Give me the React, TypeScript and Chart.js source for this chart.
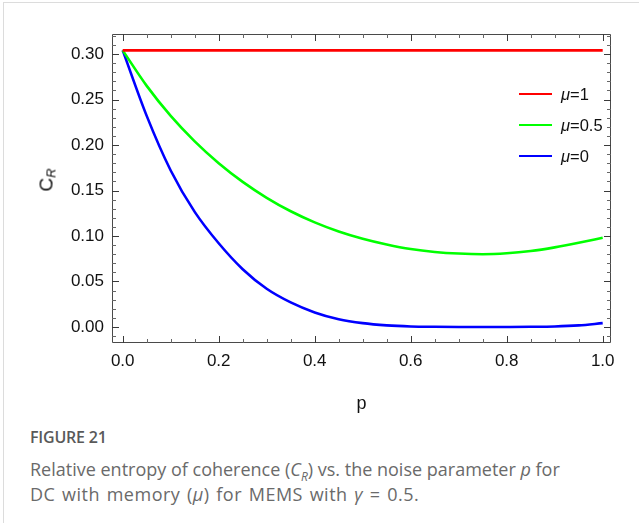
import React, { useEffect, useRef } from "react";
import { Chart, registerables } from "chart.js";

Chart.register(...registerables);

// ---- data ----
const pValues = [0, 0.05, 0.1, 0.15, 0.2, 0.25, 0.3, 0.35, 0.4, 0.45, 0.5, 0.55, 0.6, 0.65, 0.7, 0.75, 0.8, 0.85, 0.9, 0.95, 1.0];
const crMuOne = [0.304, 0.304, 0.304, 0.304, 0.304, 0.304, 0.304, 0.304, 0.304, 0.304, 0.304, 0.304, 0.304, 0.304, 0.304, 0.304, 0.304, 0.304, 0.304, 0.304, 0.304];
const crMuHalf = [0.304, 0.265, 0.232, 0.204, 0.18, 0.1595, 0.142, 0.1272, 0.115, 0.105, 0.097, 0.0907, 0.0857, 0.0825, 0.0807, 0.08, 0.081, 0.0835, 0.0875, 0.0925, 0.098];
const crMuZero = [0.304, 0.232, 0.172, 0.1265, 0.092, 0.0635, 0.042, 0.027, 0.016, 0.0085, 0.0042, 0.0018, 0.0006, 0.0002, 0.00003, 0.0, 0.00003, 0.0002, 0.0006, 0.0018, 0.0042];
const seriesLabels = ["μ=1", "μ=0.5", "μ=0"];
const seriesColors = ["#ff0000", "#00ff00", "#0000ff"];
const xTickValues = [0, 0.2, 0.4, 0.6, 0.8, 1.0];
const yTickValues = [0, 0.05, 0.1, 0.15, 0.2, 0.25, 0.3];
const xMinorStep = 0.05;
const yMinorStep = 0.01;

const TICK_FONT = "'Liberation Sans', Arial, sans-serif";

const frameTicksPlugin = {
  id: "frameTicks",
  afterDraw(chart: any) {
    const { ctx, chartArea, scales } = chart;
    const { left, right, top, bottom } = chartArea;
    const xs = scales.x;
    const ys = scales.y;
    ctx.save();
    ctx.strokeStyle = "#4a4a4a";
    ctx.lineWidth = 1;
    ctx.beginPath();
    ctx.rect(Math.round(left) + 0.5, Math.round(top) + 0.5, Math.round(right - left) - 1, Math.round(bottom - top) - 1);
    ctx.stroke();
    const isMajor = (v: number, arr: number[]) => arr.some((t) => Math.abs(t - v) < 1e-6);
    for (let i = Math.ceil(xs.min / xMinorStep); i * xMinorStep <= xs.max + 1e-9; i++) {
      const v = i * xMinorStep;
      const px = Math.round(xs.getPixelForValue(v)) + 0.5;
      const major = isMajor(v, xTickValues);
      const len = major ? 7 : 4;
      ctx.strokeStyle = major ? "#3a3a3a" : "#666";
      ctx.beginPath();
      ctx.moveTo(px, bottom);
      ctx.lineTo(px, bottom - len);
      ctx.moveTo(px, top);
      ctx.lineTo(px, top + len);
      ctx.stroke();
    }
    for (let i = Math.ceil(ys.min / yMinorStep); i * yMinorStep <= ys.max + 1e-9; i++) {
      const v = i * yMinorStep;
      const py = Math.round(ys.getPixelForValue(v)) + 0.5;
      const major = isMajor(v, yTickValues);
      const len = major ? 7 : 4;
      ctx.strokeStyle = major ? "#3a3a3a" : "#666";
      ctx.beginPath();
      ctx.moveTo(left, py);
      ctx.lineTo(left + len, py);
      ctx.moveTo(right, py);
      ctx.lineTo(right - len, py);
      ctx.stroke();
    }
    ctx.restore();
  },
};

export default function App() {
  const canvasRef = useRef<HTMLCanvasElement | null>(null);

  useEffect(() => {
    const canvas = canvasRef.current;
    if (!canvas) return;
    const makeData = (arr: number[]) => pValues.map((p, i) => ({ x: p, y: arr[i] }));
    const series = [crMuOne, crMuHalf, crMuZero];
    const chart = new Chart(canvas, {
      type: "line",
      data: {
        datasets: series.map((arr, i) => ({
          label: seriesLabels[i],
          data: makeData(arr),
          borderColor: seriesColors[i],
          backgroundColor: seriesColors[i],
          borderWidth: 2.6,
          pointRadius: 0,
          fill: false,
          cubicInterpolationMode: "monotone" as const,
        })),
      },
      options: {
        animation: false,
        responsive: false,
        devicePixelRatio: 1,
        layout: { padding: { left: 0, top: 34, right: 28, bottom: 0 } },
        plugins: {
          legend: { display: false },
          tooltip: { enabled: false },
        },
        scales: {
          x: {
            type: "linear",
            min: -0.0223,
            max: 1.0173,
            grid: { display: false, drawTicks: false },
            border: { display: false },
            afterBuildTicks: (scale: any) => {
              scale.ticks = xTickValues.map((v) => ({ value: v }));
            },
            afterFit: (scale: any) => {
              scale.height = 77;
            },
            ticks: {
              autoSkip: false,
              maxRotation: 0,
              padding: 8,
              color: "#111",
              font: { family: TICK_FONT, size: 17 },
              callback: (v: any) => Number(v).toFixed(1),
            },
            title: {
              display: true,
              text: "p",
              color: "#111",
              font: { family: TICK_FONT, size: 18 },
              padding: { top: 0, bottom: 5 },
            },
          },
          y: {
            type: "linear",
            min: -0.0176,
            max: 0.322,
            grid: { display: false, drawTicks: false },
            border: { display: false },
            afterBuildTicks: (scale: any) => {
              scale.ticks = yTickValues.map((v) => ({ value: v }));
            },
            afterFit: (scale: any) => {
              scale.width = 112;
            },
            ticks: {
              autoSkip: false,
              padding: 8,
              color: "#111",
              font: { family: TICK_FONT, size: 17 },
              callback: (v: any) => Number(v).toFixed(2),
            },
          },
        },
      },
      plugins: [frameTicksPlugin],
    });
    return () => chart.destroy();
  }, []);

  const legendRowTops = [94, 125, 156];

  return (
    <div style={{ position: "absolute", left: 0, top: 0, width: 639, height: 528, background: "#fff", overflow: "hidden" }}>
      <div style={{ position: "absolute", left: 3, top: 2, width: 640, height: 520, borderTop: "1px solid #dcdcdc", borderLeft: "1px solid #dcdcdc" }} />
      <canvas ref={canvasRef} width={639} height={420} style={{ position: "absolute", left: 0, top: 0, width: 639, height: 420 }} />
      <div
        style={{
          position: "absolute",
          left: 46,
          top: 180,
          transform: "translate(-50%, -50%) rotate(-90deg)",
          fontFamily: TICK_FONT,
          fontSize: 19,
          color: "#111",
          whiteSpace: "nowrap",
          lineHeight: 1,
        }}
      >
        C<sub style={{ fontSize: 13, fontStyle: "italic", verticalAlign: "-3px", lineHeight: 0 }}>R</sub>
      </div>
      {seriesLabels.map((lab, i) => (
        <div key={lab} style={{ position: "absolute", left: 519, top: legendRowTops[i] - 10, height: 20, display: "flex", alignItems: "center" }}>
          <div style={{ width: 33, height: 2.6, background: seriesColors[i] }} />
          <div style={{ marginLeft: 9, fontFamily: TICK_FONT, fontSize: 16.5, color: "#111", whiteSpace: "nowrap" }}>
            <i>μ</i>
            {lab.slice(1)}
          </div>
        </div>
      ))}
      <div style={{ position: "absolute", left: 30, top: 425, width: 609, fontFamily: "'Open Sans', Lato, sans-serif", color: "#6a6a6a" }}>
        <div style={{ fontSize: 16, fontWeight: 600, color: "#595959", lineHeight: "24px", letterSpacing: -0.2 }}>FIGURE 21</div>
        <div style={{ fontSize: 18, lineHeight: "25px", marginTop: 8, whiteSpace: "nowrap" }}>
          Relative entropy of coherence (<i>C</i>
          <sub style={{ fontSize: 12, fontStyle: "italic", lineHeight: 0 }}>R</sub>) vs. the noise parameter <i>p</i> for
        </div>
        <div style={{ fontSize: 18, lineHeight: "25px", whiteSpace: "nowrap", letterSpacing: 0.5, wordSpacing: 1.5 }}>
          DC with memory (<i>μ</i>) for MEMS with <i>γ</i> = 0.5.
        </div>
      </div>
    </div>
  );
}
